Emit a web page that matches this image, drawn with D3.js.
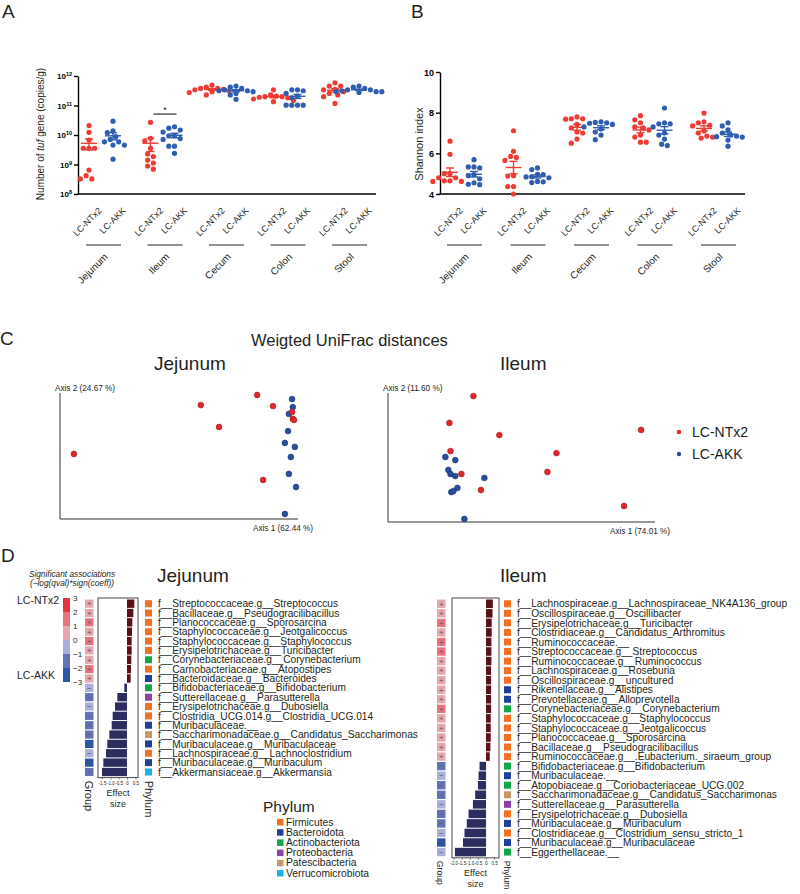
<!DOCTYPE html>
<html><head><meta charset="utf-8">
<script src="https://cdn.jsdelivr.net/npm/d3@7"></script>
<style>
body{margin:0;background:#fff}
svg{display:block;font-family:"Liberation Sans",Arial,Helvetica,sans-serif}
</style>
</head><body>
<svg id="fig" width="800" height="894"></svg>
<script>
// ================= DATA =================
const groups = ["Jejunum", "Ileum", "Cecum", "Colon", "Stool"];
const conditions = ["LC-NTx2", "LC-AKK"];

// Panel A: number of tuf gene copies/g (log10 of each mouse value), per group
const tufLogNTx2 = [
  [10.32, 10.09, 9.83, 9.55, 9.55, 9.55, 8.81, 8.62, 8.51, 8.51],
  [10.43, 9.89, 9.80, 9.55, 9.36, 9.27, 9.15, 9.05, 8.95, 8.84],
  [11.69, 11.62, 11.58, 11.58, 11.55, 11.53, 11.50, 11.47, 11.44, 11.36],
  [11.53, 11.36, 11.32, 11.30, 11.30, 11.28, 11.26, 11.22, 11.17, 11.13],
  [11.77, 11.66, 11.66, 11.55, 11.53, 11.47, 11.41, 11.36, 11.30, 11.07]
];
const tufLogAKK = [
  [10.47, 10.14, 10.08, 9.95, 9.85, 9.77, 9.77, 9.66, 9.66, 9.18],
  [10.28, 10.23, 10.17, 10.10, 9.97, 9.97, 9.88, 9.85, 9.62, 9.62, 9.38],
  [11.66, 11.62, 11.58, 11.53, 11.50, 11.50, 11.47, 11.41, 11.36, 11.21],
  [11.53, 11.53, 11.50, 11.41, 11.32, 11.26, 11.01, 11.01, 11.01, 11.01],
  [11.66, 11.62, 11.58, 11.53, 11.53, 11.50, 11.47, 11.47, 11.47, 11.44]
];
const tufTicks = [1e8, 1e9, 1e10, 1e11, 1e12];
const sigGroup = "Ileum";
const sigLogLevel = 10.71;
const sigLabel = "*";

// Panel B: Shannon index
const shannonNTx2 = [
  [6.60, 5.95, 5.00, 5.00, 4.80, 4.80, 4.65, 4.65, 4.62, 4.62],
  [7.11, 6.10, 5.85, 5.80, 5.65, 4.90, 4.88, 4.37, 4.37, 4.00],
  [7.79, 7.70, 7.70, 7.68, 7.42, 7.25, 7.05, 7.00, 6.70, 6.50],
  [7.85, 7.65, 7.50, 7.30, 7.25, 7.15, 6.90, 6.80, 6.55, 6.55],
  [7.98, 7.55, 7.50, 7.38, 7.35, 7.10, 7.00, 6.85, 6.80, 6.75]
];
const shannonAKK = [
  [5.69, 5.33, 5.33, 5.28, 4.95, 4.90, 4.75, 4.55, 4.48, 4.46],
  [5.28, 5.20, 4.97, 4.95, 4.85, 4.84, 4.80, 4.62, 4.60, 4.56],
  [7.55, 7.52, 7.50, 7.48, 7.42, 7.30, 7.20, 7.05, 6.90, 6.67],
  [8.23, 7.50, 7.45, 7.45, 7.30, 7.00, 6.90, 6.70, 6.45, 6.38],
  [7.50, 7.35, 7.15, 7.00, 6.90, 6.85, 6.82, 6.80, 6.65, 6.35]
];
const shannonTicks = [4, 6, 8, 10];

// Panel C: weighted UniFrac PCoA coordinates [axis1, axis2]
const pcoaTitle = "Weigted UniFrac distances";
const jejunumAxisLabels = ["Axis 1 (62.44 %)", "Axis 2 (24.67 %)"];
const ileumAxisLabels = ["Axis 1 (74.01 %)", "Axis 2 (11.60 %)"];
const jejunumPcoaNTx2 = [[-0.003, 0.192], [-0.145, 0.152], [0.037, 0.148], [0.085, 0.125], [0.087, 0.097],
  [0.090, 0.093], [-0.099, 0.065], [-0.465, -0.042], [0.012, -0.145]];
const jejunumPcoaAKK = [[0.085, 0.176], [0.087, 0.144], [0.077, 0.117], [0.075, 0.049], [0.067, 0.002],
  [0.092, -0.014], [0.082, -0.054], [0.077, -0.121], [0.095, -0.173], [0.067, -0.280]];
const ileumPcoaNTx2 = [[0.120, 0.288], [0.217, 0.137], [0.748, 0.157], [0.431, 0.067], [0.397, -0.006],
  [0.075, -0.014], [0.148, -0.076], [0.684, -0.138], [0.030, 0.184], [0.034, 0.075]];
const ileumPcoaAKK = [[0.015, 0.052], [0.052, 0.040], [0.026, 0.002], [0.034, -0.014], [0.052, -0.022],
  [0.060, -0.068], [0.037, -0.084], [0.161, -0.029], [0.086, -0.188], [0.045, -0.080]];

// Panel D: MaAsLin2 significant associations
const phylumNames = ["Firmicutes", "Bacteroidota", "Actinobacteriota", "Proteobacteria", "Patescibacteria", "Verrucomicrobiota"];
const phylumColors = ["#f36f21", "#1f3f98", "#12a64b", "#8b3fa8", "#c49a6c", "#17b2ea"];
const scoreSteps = [3, 2, 1, 0, -1, -2, -3];

const jejunumTaxa = [
  "f__Streptococcaceae.g__Streptococcus",
  "f__Bacillaceae.g__Pseudogracilibacillus",
  "f__Planococcaceae.g__Sporosarcina",
  "f__Staphylococcaceae.g__Jeotgalicoccus",
  "f__Staphylococcaceae.g__Staphylococcus",
  "f__Erysipelotrichaceae.g__Turicibacter",
  "f__Corynebacteriaceae.g__Corynebacterium",
  "f__Carnobacteriaceae.g__Atopostipes",
  "f__Bacteroidaceae.g__Bacteroides",
  "f__Bifidobacteriaceae.g__Bifidobacterium",
  "f__Sutterellaceae.g__Parasutterella",
  "f__Erysipelotrichaceae.g__Dubosiella",
  "f__Clostridia_UCG.014.g__Clostridia_UCG.014",
  "f__Muribaculaceae.__",
  "f__Saccharimonadaceae.g__Candidatus_Saccharimonas",
  "f__Muribaculaceae.g__Muribaculaceae",
  "f__Lachnospiraceae.g__Lachnoclostridium",
  "f__Muribaculaceae.g__Muribaculum",
  "f__Akkermansiaceae.g__Akkermansia"
];
const jejunumPhylum = ["Firmicutes", "Firmicutes", "Firmicutes", "Firmicutes", "Firmicutes", "Firmicutes",
  "Actinobacteriota", "Firmicutes", "Bacteroidota", "Actinobacteriota", "Proteobacteria", "Firmicutes",
  "Firmicutes", "Bacteroidota", "Patescibacteria", "Bacteroidota", "Firmicutes", "Bacteroidota", "Verrucomicrobiota"];
const jejunumEffect = [0.44, 0.38, 0.32, 0.30, 0.28, 0.28, 0.26, 0.24, 0.22,
  -0.16, -0.58, -0.72, -0.86, -0.92, -1.06, -1.18, -1.26, -1.42, -1.50];
const jejunumScore = [0.9, 0.9, 1.4, 0.9, 1.3, 0.9, 0.9, 1.3, 0.9,
  -0.8, -1.3, -0.9, -1.4, -1.3, -1.2, -2.2, -0.8, -2.3, -1.4];
const jejunumEffectTicks = [-1.5, -1.0, -0.5, 0, 0.5];

const ileumTaxa = [
  "f__Lachnospiraceae.g__Lachnospiraceae_NK4A136_group",
  "f__Oscillospiraceae.g__Oscillibacter",
  "f__Erysipelotrichaceae.g__Turicibacter",
  "f__Clostridiaceae.g__Candidatus_Arthromitus",
  "f__Ruminococcaceae.__",
  "f__Streptococcaceae.g__Streptococcus",
  "f__Ruminococcaceae.g__Ruminococcus",
  "f__Lachnospiraceae.g__Roseburia",
  "f__Oscillospiraceae.g__uncultured",
  "f__Rikenellaceae.g__Alistipes",
  "f__Prevotellaceae.g__Alloprevotella",
  "f__Corynebacteriaceae.g__Corynebacterium",
  "f__Staphylococcaceae.g__Staphylococcus",
  "f__Staphylococcaceae.g__Jeotgalicoccus",
  "f__Planococcaceae.g__Sporosarcina",
  "f__Bacillaceae.g__Pseudogracilibacillus",
  "f__Ruminococcaceae.g__.Eubacterium._siraeum_group",
  "f__Bifidobacteriaceae.g__Bifidobacterium",
  "f__Muribaculaceae.__",
  "f__Atopobiaceae.g__Coriobacteriaceae_UCG.002",
  "f__Saccharimonadaceae.g__Candidatus_Saccharimonas",
  "f__Sutterellaceae.g__Parasutterella",
  "f__Erysipelotrichaceae.g__Dubosiella",
  "f__Muribaculaceae.g__Muribaculum",
  "f__Clostridiaceae.g__Clostridium_sensu_stricto_1",
  "f__Muribaculaceae.g__Muribaculaceae",
  "f__Eggerthellaceae.__"
];
const ileumPhylum = ["Firmicutes", "Firmicutes", "Firmicutes", "Firmicutes", "Firmicutes", "Firmicutes",
  "Firmicutes", "Firmicutes", "Firmicutes", "Bacteroidota", "Bacteroidota", "Actinobacteriota",
  "Firmicutes", "Firmicutes", "Firmicutes", "Firmicutes", "Firmicutes", "Actinobacteriota",
  "Bacteroidota", "Actinobacteriota", "Patescibacteria", "Proteobacteria", "Firmicutes", "Bacteroidota",
  "Firmicutes", "Bacteroidota", "Actinobacteriota"];
const ileumEffect = [0.42, 0.40, 0.35, 0.35, 0.33, 0.33, 0.33, 0.31, 0.31, 0.31, 0.31, 0.31, 0.29, 0.29, 0.29, 0.27, 0.23,
  -0.40, -0.46, -0.50, -0.67, -0.81, -1.08, -1.19, -1.33, -1.42, -1.92];
const ileumScore = [0.8, 0.9, 1.3, 0.8, 1.2, 1.3, 0.8, 0.9, 0.8, 0.9, 0.8, 1.3, 0.9, 0.8, 0.9, 0.8, 0.8,
  -1.3, -0.8, -1.2, -1.3, -0.9, -1.2, -1.7, -0.8, -2.5, -0.8];
const ileumEffectTicks = [-2.0, -1.5, -1.0, -0.5, 0, 0.5];

// ================= DRAWING =================
const svg = d3.select("#fig");
const INK = "#231f20";
const RED = "#ee3b33", BLUE = "#2f5db0";

function panelLetter(t, x, y) {
  svg.append("text").attr("x", x).attr("y", y).attr("font-size", 19).attr("fill", INK).text(t);
}
panelLetter("A", 2, 18);
panelLetter("B", 411, 18);
panelLetter("C", 0, 345);
panelLetter("D", 1, 562);

// simple beeswarm: returns horizontal offsets for y positions
function swarm(ys, r) {
  const d = 2 * r + 0.5;
  const order = ys.map((y, i) => i).sort((a, b) => ys[a] - ys[b]);
  const placed = [];
  const off = new Array(ys.length).fill(0);
  order.forEach(i => {
    const y = ys[i];
    for (let k = 0; k < 40; k++) {
      const x = Math.ceil(k / 2) * (d / 2) * (k % 2 ? -1 : 1);
      if (placed.every(p => (p.x - x) ** 2 + (p.y - y) ** 2 >= d * d - 0.01)) {
        off[i] = x; placed.push({x, y}); break;
      }
    }
  });
  return off;
}

function dotPanel(o) {
  const g = svg.append("g");
  const bottom = o.y.range()[0];
  const xg = d3.scalePoint().domain(groups).range(o.xr);
  const xc = d3.scalePoint().domain(conditions).range([-12, 12]);

  const ax = g.append("g").attr("transform", `translate(${o.left},0)`)
    .call(d3.axisLeft(o.y).tickValues(o.ticks).tickSize(4).tickSizeOuter(0).tickFormat(""));
  ax.select(".domain").attr("stroke", "#000").attr("stroke-width", 1.4);
  ax.selectAll(".tick line").attr("stroke", "#000").attr("stroke-width", 1.4);
  ax.selectAll(".tick text").remove();
  ax.selectAll(".tick").append("text")
    .attr("x", -6).attr("dy", "0.34em").attr("text-anchor", "end")
    .attr("font-weight", "bold").attr("fill", "#000").attr("font-size", o.tickFont)
    .each(function (d) { o.tickLabel(d3.select(this), d); });

  g.append("line").attr("x1", o.left - 0.7).attr("x2", o.right)
    .attr("y1", bottom).attr("y2", bottom).attr("stroke", "#000").attr("stroke-width", 1.4);

  // y title
  const yt = g.append("text").attr("transform", `translate(${o.titleX},${o.titleY}) rotate(-90)`)
    .attr("text-anchor", "middle").attr("font-size", o.titleFont).attr("fill", INK);
  o.title(yt);

  groups.forEach((grp, gi) => {
    conditions.forEach((cond, ci) => {
      const vals = (ci === 0 ? o.dataN : o.dataA)[gi];
      const color = ci === 0 ? RED : BLUE;
      const cx = xg(grp) + xc(cond);
      const offs = swarm(vals.map(v => o.y(v)), 2.6);
      g.append("g").selectAll("circle").data(vals).enter().append("circle")
        .attr("cx", (d, i) => cx + offs[i]).attr("cy", d => o.y(d)).attr("r", 2.6)
        .attr("fill", color);
      const m = d3.mean(vals), s = d3.deviation(vals) / Math.sqrt(vals.length);
      const eg = g.append("g").attr("stroke", color).attr("stroke-width", 1.4).attr("fill", "none");
      eg.append("line").attr("x1", cx - 8).attr("x2", cx + 8).attr("y1", o.y(m)).attr("y2", o.y(m));
      eg.append("line").attr("x1", cx).attr("x2", cx).attr("y1", o.y(m - s)).attr("y2", o.y(m + s));
      eg.append("line").attr("x1", cx - 4).attr("x2", cx + 4).attr("y1", o.y(m - s)).attr("y2", o.y(m - s));
      eg.append("line").attr("x1", cx - 4).attr("x2", cx + 4).attr("y1", o.y(m + s)).attr("y2", o.y(m + s));
      // condition label
      g.append("text").attr("transform", `translate(${cx + 11},${bottom + 15}) rotate(-45)`)
        .attr("text-anchor", "end").attr("dy", "0.35em").attr("font-size", 9).attr("fill", INK).text(cond);
    });
    g.append("line").attr("x1", xg(grp) - 15).attr("x2", xg(grp) + 20)
      .attr("y1", bottom + 51).attr("y2", bottom + 51).attr("stroke", "#6d6e71").attr("stroke-width", 1.6);
    g.append("text").attr("transform", `translate(${xg(grp) + 5},${bottom + 61}) rotate(-45)`)
      .attr("text-anchor", "end").attr("dy", "0.35em").attr("font-size", 10).attr("fill", INK).text(grp);
  });
  if (o.sig) {
    const x1 = xg(o.sig.group) + xc(conditions[0]) + 3, x2 = xg(o.sig.group) + xc(conditions[1]) + 2;
    const yy = o.y(o.sig.value);
    g.append("line").attr("x1", x1).attr("x2", x2).attr("y1", yy).attr("y2", yy)
      .attr("stroke", "#000").attr("stroke-width", 1);
    g.append("text").attr("x", (x1 + x2) / 2).attr("y", yy - 1.5).attr("text-anchor", "middle")
      .attr("font-size", 9).attr("fill", INK).text(o.sig.label);
  }
}

// Panel A
dotPanel({
  left: 78, right: 376,
  y: d3.scaleLog().domain([1e8, 1e12]).range([194, 76]),
  xr: [101, 347],
  ticks: tufTicks,
  tickFont: 8,
  tickLabel: (t, d) => {
    t.append("tspan").text("10");
    t.append("tspan").attr("dy", "-0.55em").attr("font-size", 5.5).text(Math.round(Math.log10(d)));
  },
  titleX: 44, titleY: 134, titleFont: 10,
  title: t => {
    t.append("tspan").text("Number of ");
    t.append("tspan").attr("font-style", "italic").text("tuf");
    t.append("tspan").text(" gene (copies/g)");
  },
  dataN: tufLogNTx2.map(a => a.map(v => Math.pow(10, v))),
  dataA: tufLogAKK.map(a => a.map(v => Math.pow(10, v))),
  sig: {group: sigGroup, value: Math.pow(10, sigLogLevel), label: sigLabel}
});

// Panel B
dotPanel({
  left: 440, right: 745,
  y: d3.scaleLinear().domain([4, 10]).range([194, 72]),
  xr: [462, 716],
  ticks: shannonTicks,
  tickFont: 9,
  tickLabel: (t, d) => t.text(d),
  titleX: 423, titleY: 144, titleFont: 11,
  title: t => t.text("Shannon index"),
  dataN: shannonNTx2,
  dataA: shannonAKK
});

// Panel C
svg.append("text").attr("x", 251).attr("y", 346).attr("font-size", 16.5).attr("fill", INK).text(pcoaTitle);

function pcoa(o) {
  const g = svg.append("g");
  g.append("text").attr("x", o.titleX).attr("y", 370).attr("font-size", 19).attr("fill", INK).text(o.title);
  const x = d3.scaleLinear().domain(o.xd).range([o.left, o.right]);
  const y = d3.scaleLinear().domain(o.yd).range([o.bottom, o.top]);
  g.append("path").attr("d", `M${o.left},${o.top}V${o.bottom}H${o.right}`)
    .attr("fill", "none").attr("stroke", "#333").attr("stroke-width", 1);
  g.append("text").attr("x", o.left - 5).attr("y", o.top - 2).attr("font-size", 8.2).attr("fill", INK).text(o.labels[1]);
  g.append("text").attr("x", o.right - 45).attr("y", o.bottom + 12).attr("font-size", 8.2).attr("fill", INK).text(o.labels[0]);
  [[o.akk, "#2a4d9e", "#1b3472"], [o.ntx, "#e2262b", "#9e1b1e"]].forEach(([pts, fill, stroke]) => {
    g.append("g").selectAll("circle").data(pts).enter().append("circle")
      .attr("cx", d => x(d[0])).attr("cy", d => y(d[1])).attr("r", 2.9)
      .attr("fill", fill).attr("stroke", stroke).attr("stroke-width", 0.6);
  });
}
pcoa({title: "Jejunum", titleX: 154, left: 60, right: 298, top: 393, bottom: 519,
  xd: [-0.5, 0.1], yd: [-0.3, 0.2], labels: jejunumAxisLabels, ntx: jejunumPcoaNTx2, akk: jejunumPcoaAKK});
pcoa({title: "Ileum", titleX: 500, left: 388, right: 655, top: 393, bottom: 522,
  xd: [-0.2, 0.8], yd: [-0.2, 0.3], labels: ileumAxisLabels, ntx: ileumPcoaNTx2, akk: ileumPcoaAKK});

// legend C
conditions.forEach((c, i) => {
  svg.append("circle").attr("cx", 679).attr("cy", 432 + i * 22).attr("r", 2.2).attr("fill", i ? "#2a4d9e" : "#e2262b");
  svg.append("text").attr("x", 692).attr("y", 437 + i * 22).attr("font-size", 14).attr("fill", INK).text(c);
});

// Panel D
const groupColor = d3.scaleThreshold().domain([-2, -1, 0, 1, 2])
  .range(["#2c55a8", "#6271b8", "#aab0da", "#e7a6b0", "#e8737f", "#e6353d"]);
const phylumColor = d3.scaleOrdinal().domain(phylumNames).range(phylumColors);

svg.append("text").attr("x", 72).attr("y", 577).attr("text-anchor", "middle").attr("font-style", "italic")
  .attr("font-size", 8.3).attr("fill", INK).text("Significant associations");
svg.append("text").attr("x", 72).attr("y", 586).attr("text-anchor", "middle").attr("font-style", "italic")
  .attr("font-size", 8.3).attr("fill", INK).text("(\u2212log(qval)*sign(coeff))");

// color bar
const yCB = d3.scaleLinear().domain([3, -3]).range([598, 682]);
d3.pairs(scoreSteps).forEach(([a, b]) => {
  svg.append("rect").attr("x", 63).attr("y", yCB(a)).attr("width", 7).attr("height", yCB(b) - yCB(a))
    .attr("fill", groupColor((a + b) / 2));
});
scoreSteps.forEach(s => {
  svg.append("text").attr("x", 73).attr("y", yCB(s)).attr("dy", "0.35em").attr("font-size", 8).attr("fill", INK)
    .text(s < 0 ? "\u2212" + Math.abs(s) : s);
});
svg.append("text").attr("x", 17).attr("y", 604).attr("font-size", 10.5).attr("fill", INK).text(conditions[0]);
svg.append("text").attr("x", 17).attr("y", 679).attr("font-size", 10.5).attr("fill", INK).text(conditions[1]);

function maaslin(o) {
  const g = svg.append("g");
  const n = o.taxa.length;
  const yRow = d3.scaleBand().domain(d3.range(n)).range([o.top, o.top + n * o.rowH]);
  const bottom = o.top + n * o.rowH;
  g.append("text").attr("x", o.titleX).attr("y", 582).attr("font-size", 19).attr("fill", INK).text(o.title);
  // group column
  o.score.forEach((s, i) => {
    g.append("rect").attr("x", o.groupX).attr("y", yRow(i) + 0.6).attr("width", 8.5).attr("height", o.rowH - 1.2)
      .attr("fill", groupColor(s));
    g.append("text").attr("x", o.groupX + 4.25).attr("y", yRow(i) + o.rowH / 2).attr("dy", "0.35em")
      .attr("text-anchor", "middle").attr("font-size", 8).attr("fill", "#58595b").text(s > 0 ? "+" : "\u2212");
  });
  // effect size box
  const xE = d3.scaleLinear().domain(o.effDomain).range([o.boxL, o.boxR]);
  g.append("g").selectAll("rect").data(o.effect).enter().append("rect")
    .attr("x", d => xE(Math.min(0, d))).attr("width", d => Math.abs(xE(d) - xE(0)))
    .attr("y", (d, i) => yRow(i) + 0.5).attr("height", o.rowH - 1)
    .attr("fill", d => d > 0 ? "#5b0f17" : "#2e2d5f");
  g.append("rect").attr("x", o.boxL).attr("y", o.top - 1).attr("width", o.boxR - o.boxL).attr("height", bottom - o.top + 2)
    .attr("fill", "none").attr("stroke", "#333").attr("stroke-width", 0.9);
  const ax = g.append("g").attr("transform", `translate(0,${bottom + 1})`)
    .call(d3.axisBottom(xE).tickValues(o.ticks).tickSize(2).tickSizeOuter(0)
      .tickFormat(d => d === 0 ? "0" : d.toFixed(1)));
  ax.select(".domain").remove();
  ax.selectAll(".tick line").attr("stroke", "#333").attr("stroke-width", 0.5);
  ax.selectAll(".tick text").attr("font-size", 4.6).attr("y", 4).attr("fill", INK).attr("font-family", null);
  g.append("text").attr("x", (o.boxL + o.boxR) / 2).attr("y", bottom + 19).attr("text-anchor", "middle")
    .attr("font-size", 9).attr("fill", INK).text("Effect");
  g.append("text").attr("x", (o.boxL + o.boxR) / 2).attr("y", bottom + 30).attr("text-anchor", "middle")
    .attr("font-size", 9).attr("fill", INK).text("size");
  // phylum squares and labels
  o.phylum.forEach((p, i) => {
    g.append("rect").attr("x", o.phyX).attr("y", yRow(i) + o.rowH / 2 - 3.5).attr("width", 7).attr("height", 7)
      .attr("fill", phylumColor(p));
  });
  g.append("g").selectAll("text").data(o.taxa).enter().append("text")
    .attr("x", o.labelX).attr("y", (d, i) => yRow(i) + o.rowH / 2).attr("dy", "0.36em")
    .attr("font-size", 10.2).attr("fill", INK).text(d => d);
  g.append("text").attr("transform", `translate(${o.groupX},${bottom + 4}) rotate(90)`)
    .attr("font-size", o.sideFont).attr("fill", INK).text("Group");
  g.append("text").attr("transform", `translate(${o.phyX},${bottom + 4}) rotate(90)`)
    .attr("font-size", o.sideFont).attr("fill", INK).text("Phylum");
}
maaslin({title: "Jejunum", titleX: 157, top: 599, rowH: 9.35, groupX: 85, boxL: 98, boxR: 138,
  effDomain: [-1.74, 0.66], ticks: jejunumEffectTicks, phyX: 145, labelX: 158, sideFont: 11,
  taxa: jejunumTaxa, phylum: jejunumPhylum, effect: jejunumEffect, score: jejunumScore});
maaslin({title: "Ileum", titleX: 500, top: 599, rowH: 9.55, groupX: 437, boxL: 452, boxR: 499,
  effDomain: [-2.1, 0.8], ticks: ileumEffectTicks, phyX: 504, labelX: 517, sideFont: 8.6,
  taxa: ileumTaxa, phylum: ileumPhylum, effect: ileumEffect, score: ileumScore});

// phylum legend
svg.append("text").attr("x", 263).attr("y", 812).attr("font-size", 15.5).attr("fill", INK).text("Phylum");
phylumNames.forEach((p, i) => {
  svg.append("rect").attr("x", 277).attr("y", 822 + i * 10.2 - 3).attr("width", 6.5).attr("height", 6.5)
    .attr("fill", phylumColor(p));
  svg.append("text").attr("x", 286).attr("y", 822 + i * 10.2).attr("dy", "0.35em").attr("font-size", 10.3)
    .attr("fill", INK).text(p);
});
</script>
</body></html>
